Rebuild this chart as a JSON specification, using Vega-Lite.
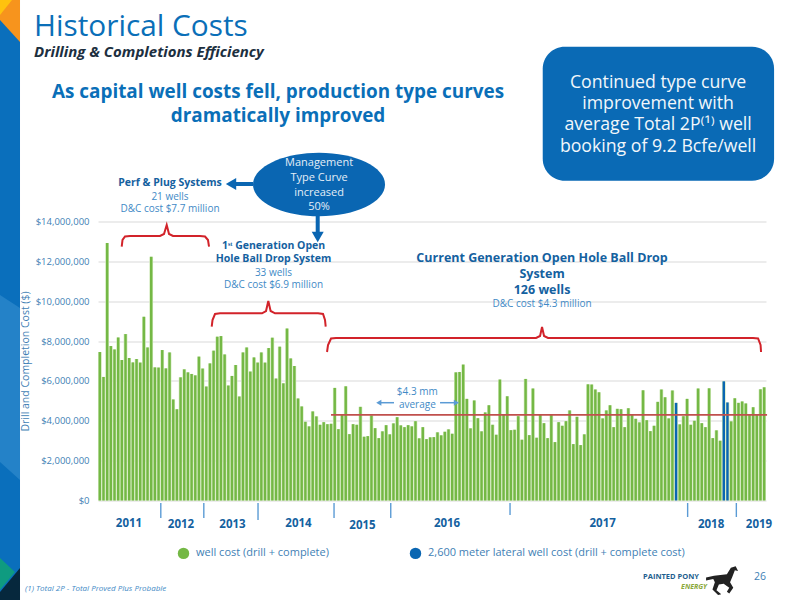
{
  "$schema": "https://vega.github.io/schema/vega-lite/v6.json",
  "autosize": {"type": "none"},
  "padding": {"left": 98, "top": 221.5, "right": 34, "bottom": 99.5},
  "width": 668,
  "height": 279,
  "background": "white",
  "title": {
    "text": "Historical Costs",
    "subtitle": "Drilling & Completions Efficiency",
    "anchor": "start",
    "frame": "group",
    "dx": -64,
    "offset": -60,
    "font": "Open Sans",
    "fontSize": 29.8,
    "fontWeight": "normal",
    "color": "#0a6fb8",
    "subtitleFont": "Open Sans",
    "subtitleFontSize": 15,
    "subtitleFontStyle": "italic",
    "subtitleFontWeight": "bold",
    "subtitleColor": "#1c2f3f",
    "subtitlePadding": 3
  },
  "datasets": {
    "wells": [
      {"well":0,"cost":7450000,"type":"standard"},{"well":1,"cost":6200000,"type":"standard"},{"well":2,"cost":12920000,"type":"standard"},{"well":3,"cost":7750000,"type":"standard"},{"well":4,"cost":7580000,"type":"standard"},{"well":5,"cost":8180000,"type":"standard"},{"well":6,"cost":7050000,"type":"standard"},{"well":7,"cost":8350000,"type":"standard"},{"well":8,"cost":7150000,"type":"standard"},{"well":9,"cost":6930000,"type":"standard"},
      {"well":10,"cost":7100000,"type":"standard"},{"well":11,"cost":6920000,"type":"standard"},{"well":12,"cost":9220000,"type":"standard"},{"well":13,"cost":7680000,"type":"standard"},{"well":14,"cost":12230000,"type":"standard"},{"well":15,"cost":6680000,"type":"standard"},{"well":16,"cost":6670000,"type":"standard"},{"well":17,"cost":7550000,"type":"standard"},{"well":18,"cost":6630000,"type":"standard"},{"well":19,"cost":7430000,"type":"standard"},
      {"well":20,"cost":5070000,"type":"standard"},{"well":21,"cost":4580000,"type":"standard"},{"well":22,"cost":6180000,"type":"standard"},{"well":23,"cost":6580000,"type":"standard"},{"well":24,"cost":6430000,"type":"standard"},{"well":25,"cost":6350000,"type":"standard"},{"well":26,"cost":6280000,"type":"standard"},{"well":27,"cost":7220000,"type":"standard"},{"well":28,"cost":6620000,"type":"standard"},{"well":29,"cost":5720000,"type":"standard"},
      {"well":30,"cost":6880000,"type":"standard"},{"well":31,"cost":7520000,"type":"standard"},{"well":32,"cost":8220000,"type":"standard"},{"well":33,"cost":8250000,"type":"standard"},{"well":34,"cost":7330000,"type":"standard"},{"well":35,"cost":5770000,"type":"standard"},{"well":36,"cost":6250000,"type":"standard"},{"well":37,"cost":6800000,"type":"standard"},{"well":38,"cost":5220000,"type":"standard"},{"well":39,"cost":7430000,"type":"standard"},
      {"well":40,"cost":7680000,"type":"standard"},{"well":41,"cost":6470000,"type":"standard"},{"well":42,"cost":7180000,"type":"standard"},{"well":43,"cost":6920000,"type":"standard"},{"well":44,"cost":7430000,"type":"standard"},{"well":45,"cost":6920000,"type":"standard"},{"well":46,"cost":7650000,"type":"standard"},{"well":47,"cost":8170000,"type":"standard"},{"well":48,"cost":6120000,"type":"standard"},{"well":49,"cost":7720000,"type":"standard"},
      {"well":50,"cost":5880000,"type":"standard"},{"well":51,"cost":8630000,"type":"standard"},{"well":52,"cost":7130000,"type":"standard"},{"well":53,"cost":6750000,"type":"standard"},{"well":54,"cost":5120000,"type":"standard"},{"well":55,"cost":4720000,"type":"standard"},{"well":56,"cost":3950000,"type":"standard"},{"well":57,"cost":3720000,"type":"standard"},{"well":58,"cost":4470000,"type":"standard"},{"well":59,"cost":4220000,"type":"standard"},
      {"well":60,"cost":3800000,"type":"standard"},{"well":61,"cost":3930000,"type":"standard"},{"well":62,"cost":3830000,"type":"standard"},{"well":63,"cost":3850000,"type":"standard"},{"well":64,"cost":5650000,"type":"standard"},{"well":65,"cost":3580000,"type":"standard"},{"well":66,"cost":4330000,"type":"standard"},{"well":67,"cost":5730000,"type":"standard"},{"well":68,"cost":3330000,"type":"standard"},{"well":69,"cost":3830000,"type":"standard"},
      {"well":70,"cost":3800000,"type":"standard"},{"well":71,"cost":4700000,"type":"standard"},{"well":72,"cost":3200000,"type":"standard"},{"well":73,"cost":3230000,"type":"standard"},{"well":74,"cost":4270000,"type":"standard"},{"well":75,"cost":3630000,"type":"standard"},{"well":76,"cost":3130000,"type":"standard"},{"well":77,"cost":3470000,"type":"standard"},{"well":78,"cost":3780000,"type":"standard"},{"well":79,"cost":3320000,"type":"standard"},
      {"well":80,"cost":3870000,"type":"standard"},{"well":81,"cost":4180000,"type":"standard"},{"well":82,"cost":3770000,"type":"standard"},{"well":83,"cost":3680000,"type":"standard"},{"well":84,"cost":3780000,"type":"standard"},{"well":85,"cost":3720000,"type":"standard"},{"well":86,"cost":3980000,"type":"standard"},{"well":87,"cost":3120000,"type":"standard"},{"well":88,"cost":3680000,"type":"standard"},{"well":89,"cost":3080000,"type":"standard"},
      {"well":90,"cost":3170000,"type":"standard"},{"well":91,"cost":3180000,"type":"standard"},{"well":92,"cost":3420000,"type":"standard"},{"well":93,"cost":3270000,"type":"standard"},{"well":94,"cost":3450000,"type":"standard"},{"well":95,"cost":3570000,"type":"standard"},{"well":96,"cost":3350000,"type":"standard"},{"well":97,"cost":6430000,"type":"standard"},{"well":98,"cost":6450000,"type":"standard"},{"well":99,"cost":6820000,"type":"standard"},
      {"well":100,"cost":5100000,"type":"standard"},{"well":101,"cost":3620000,"type":"standard"},{"well":102,"cost":5020000,"type":"standard"},{"well":103,"cost":4130000,"type":"standard"},{"well":104,"cost":3470000,"type":"standard"},{"well":105,"cost":4420000,"type":"standard"},{"well":106,"cost":4780000,"type":"standard"},{"well":107,"cost":3800000,"type":"standard"},{"well":108,"cost":3300000,"type":"standard"},{"well":109,"cost":6070000,"type":"standard"},
      {"well":110,"cost":4330000,"type":"standard"},{"well":111,"cost":5230000,"type":"standard"},{"well":112,"cost":3530000,"type":"standard"},{"well":113,"cost":3550000,"type":"standard"},{"well":114,"cost":4230000,"type":"standard"},{"well":115,"cost":3050000,"type":"standard"},{"well":116,"cost":6100000,"type":"standard"},{"well":117,"cost":3280000,"type":"standard"},{"well":118,"cost":5620000,"type":"standard"},{"well":119,"cost":3150000,"type":"standard"},
      {"well":120,"cost":4330000,"type":"standard"},{"well":121,"cost":3880000,"type":"standard"},{"well":122,"cost":3130000,"type":"standard"},{"well":123,"cost":4330000,"type":"standard"},{"well":124,"cost":2930000,"type":"standard"},{"well":125,"cost":3930000,"type":"standard"},{"well":126,"cost":3750000,"type":"standard"},{"well":127,"cost":3980000,"type":"standard"},{"well":128,"cost":4520000,"type":"standard"},{"well":129,"cost":2830000,"type":"standard"},
      {"well":130,"cost":4200000,"type":"standard"},{"well":131,"cost":2780000,"type":"standard"},{"well":132,"cost":3320000,"type":"standard"},{"well":133,"cost":5830000,"type":"standard"},{"well":134,"cost":5820000,"type":"standard"},{"well":135,"cost":5570000,"type":"standard"},{"well":136,"cost":5430000,"type":"standard"},{"well":137,"cost":4120000,"type":"standard"},{"well":138,"cost":4520000,"type":"standard"},{"well":139,"cost":4780000,"type":"standard"},
      {"well":140,"cost":3680000,"type":"standard"},{"well":141,"cost":4600000,"type":"standard"},{"well":142,"cost":4580000,"type":"standard"},{"well":143,"cost":3680000,"type":"standard"},{"well":144,"cost":4630000,"type":"standard"},{"well":145,"cost":4300000,"type":"standard"},{"well":146,"cost":4100000,"type":"standard"},{"well":147,"cost":3920000,"type":"standard"},{"well":148,"cost":5530000,"type":"standard"},{"well":149,"cost":4030000,"type":"standard"},
      {"well":150,"cost":3480000,"type":"standard"},{"well":151,"cost":3750000,"type":"standard"},{"well":152,"cost":4950000,"type":"standard"},{"well":153,"cost":5570000,"type":"standard"},{"well":154,"cost":5180000,"type":"standard"},{"well":155,"cost":4120000,"type":"standard"},{"well":156,"cost":5520000,"type":"standard"},{"well":157,"cost":4900000,"type":"lateral"},{"well":158,"cost":3820000,"type":"standard"},{"well":159,"cost":4230000,"type":"standard"},
      {"well":160,"cost":5100000,"type":"standard"},{"well":161,"cost":3800000,"type":"standard"},{"well":162,"cost":4000000,"type":"standard"},{"well":163,"cost":5620000,"type":"standard"},{"well":164,"cost":3880000,"type":"standard"},{"well":165,"cost":3680000,"type":"standard"},{"well":166,"cost":5630000,"type":"standard"},{"well":167,"cost":3130000,"type":"standard"},{"well":168,"cost":3520000,"type":"standard"},{"well":169,"cost":3000000,"type":"standard"},
      {"well":170,"cost":5980000,"type":"lateral"},{"well":171,"cost":4920000,"type":"lateral"},{"well":172,"cost":3970000,"type":"standard"},{"well":173,"cost":5130000,"type":"standard"},{"well":174,"cost":4900000,"type":"standard"},{"well":175,"cost":4970000,"type":"standard"},{"well":176,"cost":4870000,"type":"standard"},{"well":177,"cost":4330000,"type":"standard"},{"well":178,"cost":4680000,"type":"standard"},{"well":179,"cost":4330000,"type":"standard"},
      {"well":180,"cost":5580000,"type":"standard"},{"well":181,"cost":5680000,"type":"standard"}
    ],
    "sideStrip": [{"well":-27.2,"well2":-21.75,"cost":25115000,"cost2":-4993000}],
    "sideOrange": [{"well":-27.2,"cost":25115000,"cost2":24111000},{"well":-21.75,"cost":25115000,"cost2":23007000}],
    "sideYellow": [{"well":-27.2,"cost":25115000,"cost2":24362000},{"well":-23.93,"cost":25115000,"cost2":25115000}],
    "sideLight": [{"well":-27.2,"cost":10312000,"cost2":1932000},{"well":-21.75,"cost":9659000,"cost2":1029000}],
    "sideTeal": [{"well":-27.2,"cost":-2885000,"cost2":-4491000},{"well":-23.12,"cost":-3588000,"cost2":-3588000}],
    "sideNavy": [{"well":-27.2,"cost":-4591000,"cost2":-4993000},{"well":-21.75,"cost":-3387000,"cost2":-4993000}],
    "average": [{"well":62.99,"well2":181.79,"cost":4300000}],
    "brackets": [
      {"bracket":"perf","well":5.96,"cost":12735000},{"bracket":"perf","well":6.18,"cost":13072000},{"bracket":"perf","well":6.86,"cost":13247000},{"bracket":"perf","well":8.22,"cost":13272000},{"bracket":"perf","well":16.39,"cost":13272000},{"bracket":"perf","well":17.48,"cost":13373000},{"bracket":"perf","well":18.22,"cost":13824000},{"bracket":"perf","well":18.85,"cost":13373000},{"bracket":"perf","well":19.94,"cost":13272000},{"bracket":"perf","well":27.29,"cost":13272000},{"bracket":"perf","well":28.66,"cost":13247000},{"bracket":"perf","well":29.47,"cost":13072000},{"bracket":"perf","well":29.75,"cost":12735000},
      {"bracket":"first","well":30.48,"cost":8721000},{"bracket":"first","well":30.7,"cost":9057000},{"bracket":"first","well":31.38,"cost":9358000},{"bracket":"first","well":32.74,"cost":9394000},{"bracket":"first","well":44.19,"cost":9394000},{"bracket":"first","well":45.28,"cost":9509000},{"bracket":"first","well":45.9,"cost":10011000},{"bracket":"first","well":46.53,"cost":9509000},{"bracket":"first","well":47.73,"cost":9394000},{"bracket":"first","well":59.45,"cost":9394000},{"bracket":"first","well":60.81,"cost":9358000},{"bracket":"first","well":61.35,"cost":9057000},{"bracket":"first","well":61.54,"cost":8721000},
      {"bracket":"current","well":61.9,"cost":7452000},{"bracket":"current","well":62.17,"cost":7803000},{"bracket":"current","well":62.99,"cost":8129000},{"bracket":"current","well":64.35,"cost":8154000},{"bracket":"current","well":118.85,"cost":8154000},{"bracket":"current","well":119.94,"cost":8254000},{"bracket":"current","well":120.48,"cost":8706000},{"bracket":"current","well":121.03,"cost":8254000},{"bracket":"current","well":122.11,"cost":8154000},{"bracket":"current","well":177.97,"cost":8154000},{"bracket":"current","well":179.34,"cost":8129000},{"bracket":"current","well":180.02,"cost":7803000},{"bracket":"current","well":180.15,"cost":7452000}
    ],
    "yearTicks": [
      {"well":16.61,"cost":-125000,"cost2":-878000},{"well":28.33,"cost":-125000,"cost2":-878000},{"well":43.1,"cost":-125000,"cost2":-978000},{"well":63.81,"cost":-125000,"cost2":-878000},{"well":79.26,"cost":-125000,"cost2":-878000},{"well":111.76,"cost":-125000,"cost2":-728000},{"well":160.15,"cost":-125000,"cost2":-828000},{"well":173.42,"cost":-125000,"cost2":-828000}
    ],
    "years": [
      {"well":7.95,"cost":-1179000,"label":"2011"},{"well":22.12,"cost":-1229000,"label":"2012"},{"well":36.15,"cost":-1229000,"label":"2013"},{"well":54.13,"cost":-1204000,"label":"2014"},{"well":71.57,"cost":-1265000,"label":"2015"},{"well":94.6,"cost":-1179000,"label":"2016"},{"well":137,"cost":-1179000,"label":"2017"},{"well":166.54,"cost":-1229000,"label":"2018"},{"well":179.6,"cost":-1229000,"label":"2019"}
    ],
    "callout": [{"well":120.67,"well2":183.7,"cost":22771000,"cost2":16047000}],
    "calloutText": [
      {"well":152.1,"cost":20950000,"label":"Continued type curve"},
      {"well":152.1,"cost":19896000,"label":"improvement with"},
      {"well":152.1,"cost":18842000,"label":"average Total 2P⁽¹⁾ well"},
      {"well":152.1,"cost":17738000,"label":"booking of 9.2 Bcfe/well"}
    ],
    "heading": [
      {"well":48.55,"cost":20498000,"label":"As capital well costs fell, production type curves"},
      {"well":48.55,"cost":19294000,"label":"dramatically improved"}
    ],
    "systemNames": [
      {"well":19.12,"cost":15917000,"label":"Perf & Plug Systems"},
      {"well":47.32,"cost":12771000,"label":"1ˢᵗ Generation Open"},
      {"well":47.32,"cost":12103000,"label":"Hole Ball Drop System"}
    ],
    "currentNames": [
      {"well":120.48,"cost":12168000,"label":"Current Generation Open Hole Ball Drop"},
      {"well":120.48,"cost":11366000,"label":"System"},
      {"well":120.48,"cost":10563000,"label":"126 wells"}
    ],
    "systemNotes": [
      {"well":19.12,"cost":15244000,"label":"21 wells"},
      {"well":19.12,"cost":14612000,"label":"D&C cost $7.7 million"},
      {"well":47.32,"cost":11431000,"label":"33 wells"},
      {"well":47.32,"cost":10799000,"label":"D&C cost $6.9 million"},
      {"well":120.48,"cost":9860000,"label":"D&C cost $4.3 million"},
      {"well":86.5,"cost":5459000,"label":"$4.3 mm"},
      {"well":86.5,"cost":4792000,"label":"average"}
    ],
    "ellipse": [{"well":59.72,"cost":15857000}],
    "ellipseText": [
      {"well":59.72,"cost":16951000,"label":"Management"},
      {"well":59.72,"cost":16198000,"label":"Type Curve"},
      {"well":59.72,"cost":15445000,"label":"increased"},
      {"well":59.72,"cost":14712000,"label":"50%"}
    ],
    "bigShaftH": [{"well":41.73,"well2":36.01,"cost":15882000}],
    "bigHeadLeft": [{"well":35.74,"cost":15882000}],
    "bigShaftV": [{"well":59.36,"cost":14276000,"cost2":13423000}],
    "bigHeadDown": [{"well":59.36,"cost":13222000}],
    "smallShafts": [{"well":76.34,"well2":80.15,"cost":4907000},{"well":92.69,"well2":97.05,"cost":4907000}],
    "smallHeadLeft": [{"well":76,"cost":4907000}],
    "smallHeadRight": [{"well":97.15,"cost":4907000}],
    "footnote": [{"well":-20.39,"cost":-4441000,"label":"(1) Total 2P - Total Proved Plus Probable"}],
    "pageNumber": [{"well":179.88,"cost":-3824000,"label":"26"}],
    "logoName": [{"well":155.63,"cost":-3860000,"label":"PAINTED PONY"}],
    "logoEnergy": [{"well":161.9,"cost":-4320000,"label":"ENERGY"}],
    "logoHorse": [{"well":169.53,"cost":-3939000}]
  },
  "encoding": {
    "x": {"field": "well", "type": "quantitative", "scale": {"domain": [-0.5, 181.5], "padding": 0, "nice": false}, "axis": null},
    "y": {
      "field": "cost",
      "type": "quantitative",
      "stack": null,
      "scale": {"domain": [0, 14000000], "nice": false},
      "axis": {
        "title": "Drill and Completion Cost ($)",
        "titleFont": "Open Sans",
        "titleFontSize": 10.5,
        "titleFontWeight": "normal",
        "titleColor": "#3f7fb5",
        "titleX": -68,
        "format": "$,.0f",
        "values": [0, 2000000, 4000000, 6000000, 8000000, 10000000, 12000000, 14000000],
        "labelFont": "Open Sans",
        "labelFontSize": 9.5,
        "labelColor": "#3f7fb5",
        "labelPadding": 9,
        "domain": false,
        "ticks": false,
        "grid": true,
        "gridColor": "#e6e6e6",
        "gridWidth": 1.5
      }
    }
  },
  "layer": [
    {"data": {"name": "sideStrip"}, "mark": {"type": "rect", "color": "#0a6fbc"}, "encoding": {"x2": {"field": "well2"}, "y2": {"field": "cost2"}}},
    {"data": {"name": "sideLight"}, "mark": {"type": "area", "color": "#2482c8"}, "encoding": {"y2": {"field": "cost2"}}},
    {"data": {"name": "sideOrange"}, "mark": {"type": "area", "color": "#f7941d"}, "encoding": {"y2": {"field": "cost2"}}},
    {"data": {"name": "sideYellow"}, "mark": {"type": "area", "color": "#ffc20e"}, "encoding": {"y2": {"field": "cost2"}}},
    {"data": {"name": "sideTeal"}, "mark": {"type": "area", "color": "#0f9b80"}, "encoding": {"y2": {"field": "cost2"}}},
    {"data": {"name": "sideNavy"}, "mark": {"type": "area", "color": "#06283d"}, "encoding": {"y2": {"field": "cost2"}}},
    {"data": {"name": "wells"}, "mark": {"type": "bar", "orient": "vertical", "size": 3.67, "color": "#cfe8b8"}},
    {
      "data": {"name": "wells"},
      "mark": {"type": "bar", "orient": "vertical", "size": 2.4},
      "encoding": {
        "color": {
          "field": "type",
          "type": "nominal",
          "scale": {"domain": ["standard", "lateral"], "range": ["#74b845", "#0a66b2"]},
          "legend": {
            "orient": "none",
            "legendX": 79,
            "legendY": 325,
            "direction": "horizontal",
            "columns": 2,
            "title": null,
            "symbolType": "circle",
            "symbolSize": 130,
            "labelFont": "Open Sans",
            "labelFontSize": 11,
            "labelColor": "#3f7fb5",
            "labelLimit": 400,
            "labelOffset": 6,
            "columnPadding": 77,
            "labelExpr": "datum.value === 'standard' ? 'well cost (drill + complete)' : '2,600 meter lateral well cost (drill + complete cost)'",
            "encode": {"symbols": {"update": {"fill": {"signal": "datum.value === 'standard' ? '#9bbb59' : '#0a66b2'"}, "opacity": {"value": 1}}}}
          }
        }
      }
    },
    {"data": {"name": "average"}, "mark": {"type": "rule", "color": "#c0504d", "strokeWidth": 1.8}, "encoding": {"x2": {"field": "well2"}}},
    {"data": {"name": "brackets"}, "mark": {"type": "line", "color": "#d2232a", "strokeWidth": 2}, "encoding": {"detail": {"field": "bracket"}}},
    {"data": {"name": "yearTicks"}, "mark": {"type": "rule", "color": "#5b9bd5", "strokeWidth": 1.4}, "encoding": {"y2": {"field": "cost2"}}},
    {"data": {"name": "years"}, "mark": {"type": "text", "font": "Open Sans", "fontSize": 11.5, "fontWeight": "bold", "color": "#14619f", "baseline": "middle"}, "encoding": {"text": {"field": "label"}}},
    {"data": {"name": "callout"}, "mark": {"type": "rect", "color": "#0a6ab5", "cornerRadius": 22}, "encoding": {"x2": {"field": "well2"}, "y2": {"field": "cost2"}}},
    {"data": {"name": "calloutText"}, "mark": {"type": "text", "font": "Open Sans", "fontSize": 17.7, "color": "#f2f7fb", "baseline": "middle"}, "encoding": {"text": {"field": "label"}}},
    {"data": {"name": "heading"}, "mark": {"type": "text", "font": "Open Sans", "fontSize": 18.9, "fontWeight": "bold", "color": "#0a6fb8", "baseline": "middle"}, "encoding": {"text": {"field": "label"}}},
    {"data": {"name": "systemNames"}, "mark": {"type": "text", "font": "Open Sans", "fontSize": 10.5, "fontWeight": "bold", "color": "#14619f", "baseline": "middle"}, "encoding": {"text": {"field": "label"}}},
    {"data": {"name": "currentNames"}, "mark": {"type": "text", "font": "Open Sans", "fontSize": 12.5, "fontWeight": "bold", "color": "#14619f", "baseline": "middle"}, "encoding": {"text": {"field": "label"}}},
    {"data": {"name": "systemNotes"}, "mark": {"type": "text", "font": "Open Sans", "fontSize": 10, "color": "#3f8ac6", "baseline": "middle"}, "encoding": {"text": {"field": "label"}}},
    {"data": {"name": "bigShaftH"}, "mark": {"type": "rule", "color": "#0a66b2", "strokeWidth": 4}, "encoding": {"x2": {"field": "well2"}}},
    {"data": {"name": "bigHeadLeft"}, "mark": {"type": "point", "filled": true, "opacity": 1, "shape": "triangle-left", "size": 144, "color": "#0a66b2"}},
    {"data": {"name": "bigShaftV"}, "mark": {"type": "rule", "color": "#0a66b2", "strokeWidth": 4}, "encoding": {"y2": {"field": "cost2"}}},
    {"data": {"name": "bigHeadDown"}, "mark": {"type": "point", "filled": true, "opacity": 1, "shape": "triangle-down", "size": 144, "color": "#0a66b2"}},
    {"data": {"name": "ellipse"}, "mark": {"type": "point", "filled": true, "opacity": 1, "size": 17424, "color": "#0a66b2", "shape": "M-1,0 C-1,-0.2656 -0.5523,-0.481 0,-0.481 C0.5523,-0.481 1,-0.2656 1,0 C1,0.2656 0.5523,0.481 0,0.481 C-0.5523,0.481 -1,0.2656 -1,0 Z"}},
    {"data": {"name": "ellipseText"}, "mark": {"type": "text", "font": "Open Sans", "fontSize": 11, "color": "#e4eef7", "baseline": "middle"}, "encoding": {"text": {"field": "label"}}},
    {"data": {"name": "smallShafts"}, "mark": {"type": "rule", "color": "#5b9bd5", "strokeWidth": 1.5}, "encoding": {"x2": {"field": "well2"}}},
    {"data": {"name": "smallHeadLeft"}, "mark": {"type": "point", "filled": true, "opacity": 1, "shape": "triangle-left", "size": 36, "color": "#5b9bd5"}},
    {"data": {"name": "smallHeadRight"}, "mark": {"type": "point", "filled": true, "opacity": 1, "shape": "triangle-right", "size": 36, "color": "#5b9bd5"}},
    {"data": {"name": "footnote"}, "mark": {"type": "text", "font": "Open Sans", "fontSize": 8, "fontStyle": "italic", "color": "#3f8ac6", "align": "left", "baseline": "middle"}, "encoding": {"text": {"field": "label"}}},
    {"data": {"name": "pageNumber"}, "mark": {"type": "text", "font": "Open Sans", "fontSize": 10.5, "color": "#3f7fb5", "baseline": "middle"}, "encoding": {"text": {"field": "label"}}},
    {"data": {"name": "logoName"}, "mark": {"type": "text", "font": "Open Sans", "fontSize": 7.5, "fontWeight": "bold", "color": "#1f5f8f", "baseline": "middle"}, "encoding": {"text": {"field": "label"}}},
    {"data": {"name": "logoEnergy"}, "mark": {"type": "text", "font": "Open Sans", "fontSize": 7, "fontWeight": "bold", "fontStyle": "italic", "color": "#8aa83a", "baseline": "middle"}, "encoding": {"text": {"field": "label"}}},
    {"data": {"name": "logoHorse"}, "mark": {"type": "point", "filled": true, "opacity": 1, "size": 1024, "color": "#222222", "shape": "M-1,-0.1 L-0.5,-0.2 L-0.1,-0.25 L0.3,-0.3 L0.55,-0.7 L0.85,-0.8 L1,-0.5 L0.8,-0.55 L0.65,-0.15 L0.5,0.2 L0.7,0.55 L0.45,0.9 L0.3,0.8 L0.45,0.55 L0.1,0.3 L-0.2,0.35 L-0.35,0.7 L-0.05,0.95 L-0.25,1 L-0.6,0.65 L-0.45,0.2 L-0.55,0 L-1,0.1 Z"}}
  ],
  "config": {"view": {"stroke": null}}
}
